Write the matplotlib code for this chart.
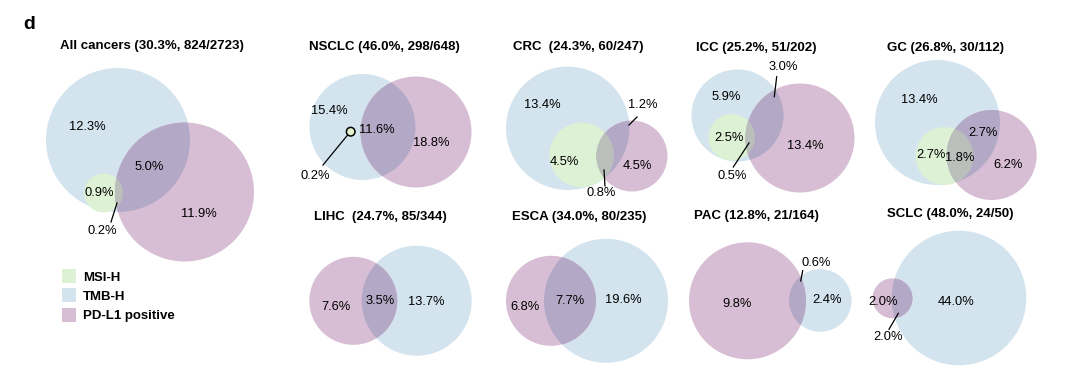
import matplotlib
matplotlib.use("Agg")
import matplotlib.pyplot as plt
from matplotlib.patches import Circle, Rectangle

plt.rcParams['font.family'] = ['Liberation Sans', 'DejaVu Sans']

# ---------------- data ----------------
cancers = ["All cancers", "NSCLC", "CRC ", "ICC", "GC", "LIHC ", "ESCA", "PAC", "SCLC"]
rate = [30.3, 46.0, 24.3, 25.2, 26.8, 24.7, 34.0, 12.8, 48.0]
positives = [824, 298, 60, 51, 30, 85, 80, 21, 24]
totals = [2723, 648, 247, 202, 112, 344, 235, 164, 50]

all_vals = [12.3, 5.0, 0.9, 11.9, 0.2]
nsclc_vals = [15.4, 11.6, 18.8, 0.2]
crc_vals = [13.4, 1.2, 4.5, 4.5, 0.8]
icc_vals = [5.9, 3.0, 2.5, 13.4, 0.5]
gc_vals = [13.4, 2.7, 2.7, 1.8, 6.2]
lihc_vals = [7.6, 3.5, 13.7]
esca_vals = [6.8, 7.7, 19.6]
pac_vals = [9.8, 2.4, 0.6]
sclc_vals = [2.0, 44.0, 2.0]
region_vals = [all_vals, nsclc_vals, crc_vals, icc_vals, gc_vals,
               lihc_vals, esca_vals, pac_vals, sclc_vals]

legend_labels = ["MSI-H", "TMB-H", "PD-L1 positive"]

# ---------------- style / layout ----------------
C_TMB = "#d3e4ee"
C_MSI = "#ddf1d5"
C_PD = "#d8bed4"
C_TMB_PD = "#b3a9c6"
C_MSI_PD = "#babfbb"
set_colors = {"MSI": C_MSI, "TMB": C_TMB, "PD": C_PD}

layout = [
    dict(title=(152, 45.7),
         circles={"TMB": (118, 140, 72), "MSI": (103.5, 193, 19.5), "PD": (184.5, 192, 69.5)},
         labels=[(87, 127), (149, 167), (99, 193), (199, 214), (102, 231)],
         lines=[((117, 203), (111, 222))]),
    dict(title=(384, 46.7),
         circles={"TMB": (362.5, 127, 53), "PD": (416, 132, 55.5)},
         tiny=(350.7, 131.7, 4.3),
         labels=[(329, 110.7), (376.5, 130), (431, 143), (315, 175.7)],
         lines=[((347.8, 134.8), (323, 165))]),
    dict(title=(578, 46.7),
         circles={"TMB": (567.7, 128.3, 61.7), "MSI": (581.7, 155, 32.3), "PD": (632, 156, 35.5)},
         labels=[(542, 105), (643, 105), (564, 162), (637, 166), (601, 193)],
         lines=[((629, 125), (637, 117)), ((604, 170), (605, 186))]),
    dict(title=(756.7, 48.3),
         circles={"TMB": (737.5, 115.5, 46), "MSI": (731.7, 137.3, 23.3), "PD": (800, 138, 54.5)},
         labels=[(726.7, 96.7), (783.3, 67.3), (729, 138), (805, 146), (732.3, 176)],
         lines=[((776.7, 76.7), (774.3, 96.7)), ((749, 143), (733.3, 167))]),
    dict(title=(945.7, 48.3),
         circles={"TMB": (937.5, 122.5, 62.5), "MSI": (944.5, 156, 29), "PD": (991.7, 155, 45)},
         labels=[(919.3, 100), (982.7, 132.7), (930.7, 155), (960, 157.7), (1008.3, 165)],
         lines=[]),
    dict(title=(380.7, 216.7),
         circles={"TMB": (416.7, 300.7, 55), "PD": (353.3, 300.8, 44)},
         labels=[(335.7, 306.7), (380, 301), (426.7, 302.3)],
         lines=[]),
    dict(title=(579.3, 216.7),
         circles={"TMB": (606, 300.8, 62), "PD": (551, 300.8, 45)},
         labels=[(525, 306.7), (570, 300.7), (623.3, 300)],
         lines=[]),
    dict(title=(756.7, 216),
         circles={"TMB": (820.3, 300.5, 31.3), "PD": (747.5, 300.8, 58.5)},
         labels=[(736.7, 304.3), (826.7, 300), (816, 262.7)],
         lines=[((800.7, 281), (802.7, 270.7))]),
    dict(title=(950.7, 214.3),
         circles={"TMB": (959, 298, 67.3), "PD": (892.5, 298.3, 20)},
         labels=[(883.3, 301.7), (956, 301.7), (888.3, 337.3)],
         lines=[((898.3, 313.3), (889, 329.3))]),
]

W, H = 1067, 392
fig = plt.figure(figsize=(W / 100, H / 100), dpi=100)
ax = fig.add_axes([0, 0, 1, 1])
ax.set_xlim(0, W)
ax.set_ylim(H, 0)
ax.set_aspect('equal')
ax.axis('off')

LABEL_FS = 9.3
TITLE_FS = 9.5


def circ(spec, color, z):
    cx, cy, r = spec
    return Circle((cx, cy), r, facecolor=color, edgecolor='none',
                  transform=ax.transData, zorder=z)


for name, rt, pos, tot, vals, lay in zip(cancers, rate, positives, totals,
                                          region_vals, layout):
    circles = lay["circles"]
    patches = {}
    for z, key in enumerate(["TMB", "MSI", "PD"]):
        if key in circles:
            p = circ(circles[key], set_colors[key], 1 + z)
            ax.add_patch(p)
            patches[key] = p
    # overlaps with PD-L1 region
    if "PD" in patches:
        ov = circ(circles["TMB"], C_TMB_PD, 4)
        ax.add_patch(ov)
        ov.set_clip_path(patches["PD"])
        if "MSI" in patches:
            ov2 = circ(circles["MSI"], C_MSI_PD, 5)
            ax.add_patch(ov2)
            ov2.set_clip_path(patches["PD"])
    if "tiny" in lay:
        cx, cy, r = lay["tiny"]
        ax.add_patch(Circle((cx, cy), r, facecolor="#e3f1cc", edgecolor='black',
                            linewidth=1.1, zorder=7))
    for (p0, p1) in lay["lines"]:
        ax.plot([p0[0], p1[0]], [p0[1], p1[1]], color='black', lw=0.9, zorder=6)
    for v, (x, y) in zip(vals, lay["labels"]):
        ax.text(x, y, f"{v:.1f}%", fontsize=LABEL_FS, ha='center', va='center', zorder=8)
    tx, ty = lay["title"]
    ax.text(tx, ty, f"{name} ({rt:.1f}%, {pos}/{tot})", fontsize=TITLE_FS,
            fontweight='bold', ha='center', va='center', zorder=8)

# panel letter
ax.text(29, 24, "d", fontsize=14, fontweight='bold', ha='center', va='center')

# legend
leg_colors = [C_MSI, C_TMB, C_PD]
leg_y = [276.3, 295.3, 314.7]
for lab, col, y in zip(legend_labels, leg_colors, leg_y):
    ax.add_patch(Rectangle((62.3, y - 7), 13.7, 14, facecolor=col, edgecolor='none'))
    ax.text(82.7, y + 1.5, lab, fontsize=TITLE_FS, fontweight='bold', ha='left', va='center')

fig.savefig("out.png", dpi=100)
